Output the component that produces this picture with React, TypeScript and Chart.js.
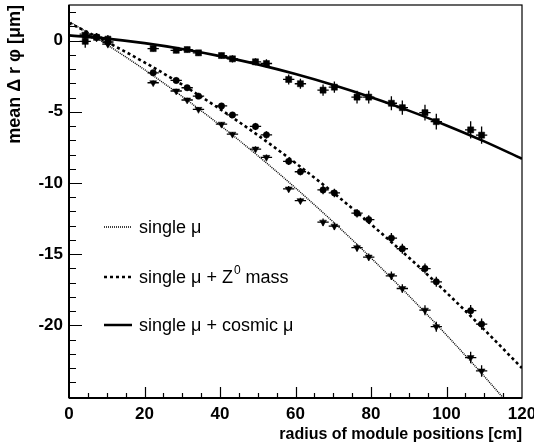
import React, { useEffect, useRef } from "react";
import { Chart, registerables } from "chart.js";

Chart.register(...registerables);

// ---- data ----
const radius = [4.3, 7.3, 10.3, 22.3, 28.4, 31.3, 34.3, 40.4, 43.3, 49.4, 52.3, 58.2, 61.3, 67.3, 70.3, 76.3, 79.4, 85.4, 88.3, 94.3, 97.3, 106.4, 109.3];
const radiusErr = [1.5, 1.5, 1.5, 1.5, 1.5, 1.5, 1.5, 1.5, 1.5, 1.5, 1.5, 1.5, 1.5, 1.5, 1.5, 1.5, 1.5, 1.5, 1.5, 1.5, 1.5, 1.5, 1.5];

const singleMu = [0.45, 0.2, -0.25, -2.96, -3.54, -4.17, -4.83, -5.87, -6.57, -7.62, -8.2, -10.42, -11.24, -12.75, -13.03, -14.54, -15.2, -16.52, -17.41, -18.93, -20.09, -22.26, -23.2];
const singleMuErr = [0.2, 0.2, 0.2, 0.15, 0.15, 0.15, 0.15, 0.15, 0.15, 0.2, 0.2, 0.2, 0.2, 0.25, 0.25, 0.25, 0.25, 0.3, 0.3, 0.35, 0.35, 0.4, 0.4];

const singleMuZ0 = [0.35, 0.25, -0.1, -2.26, -2.8, -3.31, -3.9, -4.59, -5.22, -6.03, -6.62, -8.48, -9.21, -10.49, -10.7, -12.12, -12.57, -13.87, -14.62, -16.01, -16.94, -18.97, -19.91];
const singleMuZ0Err = [0.25, 0.25, 0.25, 0.2, 0.2, 0.2, 0.2, 0.2, 0.2, 0.25, 0.25, 0.25, 0.25, 0.3, 0.3, 0.3, 0.3, 0.35, 0.35, 0.35, 0.35, 0.4, 0.4];

const singleMuCosmic = [-0.05, 0.23, 0.1, -0.56, -0.68, -0.63, -0.86, -1.05, -1.28, -1.49, -1.61, -2.73, -3.03, -3.48, -3.27, -3.97, -3.97, -4.4, -4.71, -5.06, -5.69, -6.27, -6.64];
const singleMuCosmicErr = [0.45, 0.3, 0.3, 0.2, 0.2, 0.2, 0.2, 0.2, 0.25, 0.25, 0.3, 0.35, 0.35, 0.4, 0.4, 0.45, 0.45, 0.5, 0.5, 0.55, 0.55, 0.6, 0.6];

const fitRadius = [0, 10, 20, 30, 40, 50, 60, 70, 80, 90, 100, 110, 120];
const fitSingleMu = [1.35, -0.28, -2.04, -3.93, -5.94, -8.08, -10.35, -12.74, -15.26, -17.91, -20.68, -23.58, -26.61];
const fitSingleMuZ0 = [1.24, -0.09, -1.53, -3.1, -4.81, -6.64, -8.6, -10.68, -12.9, -15.23, -17.7, -20.3, -23.0];
const fitSingleMuCosmic = [0.37, 0.14, -0.18, -0.59, -1.09, -1.67, -2.35, -3.12, -3.98, -4.92, -5.96, -7.08, -8.3];

const xTicks = [0, 20, 40, 60, 80, 100, 120];
const yTicks = [0, -5, -10, -15, -20];
const legendNames = ["single μ", "single μ + Z", "single μ + cosmic μ"];

const FONT = '"Liberation Sans", Arial, Helvetica, sans-serif';

const pts = (xs: number[], ys: number[]) => xs.map((x, i) => ({ x, y: ys[i] }));

const overlay = {
  id: "overlay",
  beforeDatasetsDraw(chart: any) {
    const { ctx, scales } = chart;
    const x = scales.x;
    const y = scales.y;
    const series = [
      [singleMu, singleMuErr],
      [singleMuZ0, singleMuZ0Err],
      [singleMuCosmic, singleMuCosmicErr],
    ];
    ctx.save();
    ctx.strokeStyle = "#000";
    ctx.lineWidth = 1.3;
    for (const [vals, errs] of series) {
      for (let i = 0; i < radius.length; i++) {
        const px = x.getPixelForValue(radius[i]);
        const py = y.getPixelForValue(vals[i]);
        ctx.beginPath();
        ctx.moveTo(x.getPixelForValue(radius[i] - radiusErr[i]), py);
        ctx.lineTo(x.getPixelForValue(radius[i] + radiusErr[i]), py);
        ctx.moveTo(px, y.getPixelForValue(vals[i] - errs[i]));
        ctx.lineTo(px, y.getPixelForValue(vals[i] + errs[i]));
        ctx.stroke();
      }
    }
    ctx.restore();
  },
  afterDraw(chart: any) {
    const { ctx, chartArea: a, scales } = chart;
    const x = scales.x;
    const y = scales.y;
    ctx.save();
    ctx.strokeStyle = "#000";
    // frame
    ctx.lineWidth = 1.2;
    ctx.strokeRect(a.left, a.top, a.right - a.left, a.bottom - a.top);
    ctx.lineWidth = 2;
    ctx.beginPath();
    ctx.moveTo(a.left, a.top);
    ctx.lineTo(a.left, a.bottom);
    ctx.moveTo(a.left, a.bottom);
    ctx.lineTo(a.right, a.bottom);
    ctx.stroke();
    // y ticks (inside)
    ctx.lineWidth = 1.2;
    ctx.beginPath();
    for (let v = Math.ceil(y.min); v <= Math.floor(y.max); v++) {
      const py = Math.round(y.getPixelForValue(v)) + 0.5;
      const len = v % 5 === 0 ? 13 : 7;
      ctx.moveTo(a.left, py);
      ctx.lineTo(a.left + len, py);
    }
    // x ticks (inside)
    for (let v = 5; v < 120; v += 5) {
      const px = Math.round(x.getPixelForValue(v)) + 0.5;
      const len = v % 20 === 0 ? 11 : 5;
      ctx.moveTo(px, a.bottom);
      ctx.lineTo(px, a.bottom - len);
    }
    ctx.stroke();

    // legend
    const lx0 = a.left + 35;
    const lx1 = a.left + 63;
    const tx = a.left + 70;
    const rows = [a.top + 222, a.top + 272, a.top + 320];
    const styles = [
      { w: 1.3, dash: [1, 1] },
      { w: 2.5, dash: [3, 3] },
      { w: 2.5, dash: [] as number[] },
    ];
    rows.forEach((ry, i) => {
      ctx.lineWidth = styles[i].w;
      ctx.setLineDash(styles[i].dash);
      ctx.beginPath();
      ctx.moveTo(lx0, ry);
      ctx.lineTo(lx1, ry);
      ctx.stroke();
    });
    ctx.setLineDash([]);
    ctx.fillStyle = "#000";
    ctx.textBaseline = "alphabetic";
    ctx.textAlign = "left";
    ctx.font = `18px ${FONT}`;
    ctx.fillText(legendNames[0], tx, rows[0] + 6);
    ctx.fillText(legendNames[1], tx, rows[1] + 6);
    let w = ctx.measureText(legendNames[1]).width;
    ctx.font = `12px ${FONT}`;
    ctx.fillText("0", tx + w + 1, rows[1] - 3);
    const w0 = ctx.measureText("0").width;
    ctx.font = `18px ${FONT}`;
    ctx.fillText(" mass", tx + w + 1 + w0, rows[1] + 6);
    ctx.fillText(legendNames[2], tx, rows[2] + 6);
    ctx.restore();
  },
};

export default function App() {
  const ref = useRef<HTMLCanvasElement | null>(null);
  useEffect(() => {
    if (!ref.current) return;
    const black = "#000";
    const chart = new Chart(ref.current, {
      type: "scatter",
      data: {
        datasets: [
          {
            label: "fit single μ",
            data: pts(fitRadius, fitSingleMu),
            showLine: true,
            pointRadius: 0,
            borderColor: black,
            borderWidth: 1.4,
            borderDash: [1, 1],
            cubicInterpolationMode: "monotone",
          },
          {
            label: "fit single μ + Z0 mass",
            data: pts(fitRadius, fitSingleMuZ0),
            showLine: true,
            pointRadius: 0,
            borderColor: black,
            borderWidth: 2.6,
            borderDash: [3, 3],
            cubicInterpolationMode: "monotone",
          },
          {
            label: "fit single μ + cosmic μ",
            data: pts(fitRadius, fitSingleMuCosmic),
            showLine: true,
            pointRadius: 0,
            borderColor: black,
            borderWidth: 2.6,
            cubicInterpolationMode: "monotone",
          },
          {
            label: "single μ",
            data: pts(radius, singleMu),
            pointStyle: "triangle",
            pointRotation: 180,
            pointRadius: 4,
            pointBackgroundColor: black,
            pointBorderColor: black,
            pointBorderWidth: 0.5,
          },
          {
            label: "single μ + Z0 mass",
            data: pts(radius, singleMuZ0),
            pointStyle: "circle",
            pointRadius: 3.2,
            pointBackgroundColor: black,
            pointBorderColor: black,
            pointBorderWidth: 0.5,
          },
          {
            label: "single μ + cosmic μ",
            data: pts(radius, singleMuCosmic),
            pointStyle: "rect",
            pointRadius: 4.3,
            pointBackgroundColor: black,
            pointBorderColor: black,
            pointBorderWidth: 0.5,
          },
        ],
      } as any,
      options: {
        animation: false,
        responsive: false,
        maintainAspectRatio: false,
        layout: { padding: { top: 5, right: 12, left: 0, bottom: 0 } },
        plugins: { legend: { display: false }, tooltip: { enabled: false } },
        scales: {
          x: {
            type: "linear",
            min: 0,
            max: 120,
            grid: { display: false, drawTicks: false },
            border: { display: false },
            afterBuildTicks: (s: any) => {
              s.ticks = xTicks.map((v) => ({ value: v }));
            },
            afterFit: (s: any) => {
              s.height = 48;
              s.paddingLeft = 0;
              s.paddingRight = 0;
            },
            ticks: {
              color: black,
              padding: 6,
              maxRotation: 0,
              autoSkip: false,
              font: { family: FONT, weight: "bold", size: 17 },
              callback: (v: any) => String(v),
            },
            title: {
              display: true,
              text: "radius of module positions [cm]",
              align: "end",
              color: black,
              font: { family: FONT, weight: "bold", size: 16 },
              padding: { top: 0, bottom: 1.5 },
            },
          },
          y: {
            type: "linear",
            min: -25.1,
            max: 2.5,
            grid: { display: false, drawTicks: false },
            border: { display: false },
            afterBuildTicks: (s: any) => {
              s.ticks = yTicks.map((v) => ({ value: v }));
            },
            afterFit: (s: any) => {
              s.width = 69;
              s.paddingTop = 0;
              s.paddingBottom = 0;
            },
            ticks: {
              color: black,
              padding: 6,
              autoSkip: false,
              font: { family: FONT, weight: "bold", size: 17 },
              callback: (v: any) => String(v),
            },
            title: {
              display: true,
              text: "mean Δ r φ [μm]",
              align: "end",
              color: black,
              font: { family: FONT, weight: "bold", size: 18 },
              padding: { top: 4, bottom: 0 },
            },
          },
        },
      } as any,
      plugins: [overlay],
    });
    return () => chart.destroy();
  }, []);
  return (
    <div style={{ position: "fixed", left: 0, top: 0, width: 534, height: 446, background: "#fff" }}>
      <canvas ref={ref} width={534} height={446} style={{ width: 534, height: 446, display: "block" }} />
    </div>
  );
}
